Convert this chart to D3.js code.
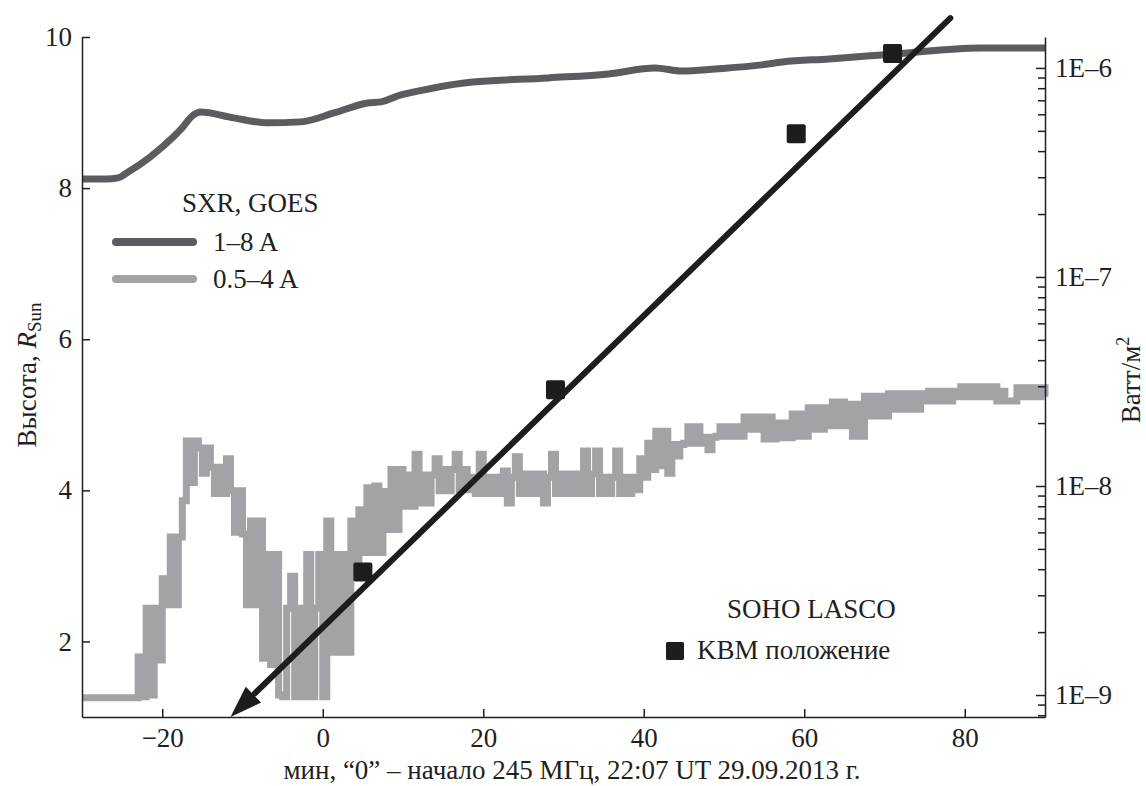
<!DOCTYPE html>
<html>
<head>
<meta charset="utf-8">
<script src="https://cdn.jsdelivr.net/npm/d3@7"></script>
<style>
    body { margin: 0; background: #fff; }
    svg text { font-family: 'Liberation Serif', 'Times New Roman', serif; fill: #231f20; }
</style>
</head>
<body>
<svg id="chart" width="1146" height="786"></svg>
<script>
// time in minutes, "0" = onset at 245 MHz
let hardTime = [-30, -27, -25.5, -24.4, -21.5, -18.6, -17.75, -16.1, -15.25, -11.1, -6.9, -2.75, 1.4, 5.6, 7.25, 9.75, 11.4, 17.6, 28.1, 35.6, 41.4, 44.75, 48.9, 54.75, 57.25, 63.1, 71.4, 81.9, 90];
// GOES 1-8 A, W/m2
let hardFlux = [2.94e-7, 2.94e-7, 2.98e-7, 3.15e-7, 3.75e-7, 4.68e-7, 5.05e-7, 5.96e-7, 6.16e-7, 5.77e-7, 5.46e-7, 5.52e-7, 6.09e-7, 6.80e-7, 6.88e-7, 7.43e-7, 7.68e-7, 8.48e-7, 8.96e-7, 9.36e-7, 1.0e-6, 9.67e-7, 9.89e-7, 1.034e-6, 1.068e-6, 1.104e-6, 1.167e-6, 1.246e-6, 1.246e-6];

// GOES 0.5-4 A, sampled every half minute from -30, in 1E-9 W/m2
let softStart = -30;
let softStep = 0.5;
let softFlux = [
    0.97, 0.97, 0.97, 0.97, 0.97, 0.97, 0.97, 0.97, 0.97, 0.97,
    0.97, 0.97, 0.97, 0.97, 1.52, 0.98, 2.6, 1.0, 2.6, 1.47,
    3.6, 2.7, 5.7, 2.7, 5.7, 8.5, 16.4, 10.4, 16.4, 15.2,
    11.5, 15.2, 12.3, 9.2, 12.3, 9.2, 13.5, 9.5, 6.0, 9.5,
    5.9, 2.7, 6.8, 2.7, 6.8, 1.5, 4.7, 1.4, 4.7, 1.0,
    0.98, 2.6, 3.7, 0.98, 2.6, 0.98, 4.7, 0.98, 2.6, 4.7,
    0.98, 6.8, 1.6, 4.7, 1.6, 4.7, 1.6, 6.8, 3.7, 7.7,
    4.8, 9.8, 4.8, 10.0, 4.8, 9.4, 6.2, 12.0, 6.2, 12.0,
    8.0, 11.3, 8.0, 14.2, 8.3, 11.3, 8.3, 11.3, 13.5, 9.5,
    12.0, 9.5, 12.0, 14.2, 9.6, 12.0, 9.6, 11.0, 9.2, 14.2,
    9.2, 11.0, 9.2, 11.0, 9.2, 11.8, 8.3, 11.0, 13.8, 9.2,
    11.4, 9.2, 11.4, 9.2, 11.4, 8.3, 11.0, 14.2, 9.2, 11.4,
    9.2, 11.4, 9.2, 11.4, 9.2, 14.7, 9.2, 11.4, 14.7, 9.2,
    11.0, 9.2, 11.0, 14.7, 9.2, 11.0, 9.2, 11.0, 9.6, 13.5,
    11.0, 16.0, 12.0, 18.3, 12.5, 18.3, 11.5, 15.8, 13.9, 15.8,
    16.0, 19.2, 16.0, 19.2, 16.0, 17.1, 14.9, 17.1, 17.3, 19.2,
    17.3, 19.2, 17.3, 19.2, 17.3, 21.4, 18.7, 21.4, 18.7, 21.4,
    16.8, 21.4, 16.8, 20.0, 17.0, 20.0, 17.0, 22.1, 17.3, 22.1,
    17.3, 23.7, 18.7, 23.7, 18.7, 23.7, 19.4, 25.2, 19.4, 25.2,
    19.4, 24.6, 17.3, 24.6, 17.3, 26.9, 21.6, 26.9, 21.6, 26.9,
    21.6, 27.6, 23.3, 27.6, 23.3, 27.6, 23.3, 27.6, 23.3, 27.6,
    25.5, 28.4, 25.5, 28.4, 25.5, 28.4, 25.5, 28.4, 26.7, 29.8,
    26.7, 29.8, 26.7, 29.8, 26.7, 29.8, 26.7, 29.8, 25.5, 28.4,
    25.5, 25.5, 25.5, 29.5, 26.7, 29.5, 26.7, 29.5, 26.7, 29.5,
    26.7
];

// SOHO LASCO CME front, solar radii
let kbmTime = [5, 29, 59, 71];
let kbmHeight = [2.92, 5.33, 8.72, 9.78];

// linear fit drawn as arrow (from tail to tip)
let fitTime = [78.2, -11.5];
let fitHeight = [10.25, 1.0];

let timeTicks = [-20, 0, 20, 40, 60, 80];
let heightTicks = [2, 4, 6, 8, 10];

let fontSize = 27;
let ink = '#231f20';
let hardColor = '#5c5c60';
let softColor = '#a2a3a7';

let svg = d3.select('#chart');

let x = d3.scaleLinear().domain([-30, 90]).range([82, 1045]);
let yH = d3.scaleLinear().domain([1, 10]).range([717, 37]);
let yFlux = d3.scaleLog().domain([7.85e-10, 1.406e-6]).range([717, 37]);

// series
let softLine = d3.line()
    .x((d, i) => x(softStart + i * softStep))
    .y((d) => yFlux(d * 1e-9))
    .curve(d3.curveStepAfter);

svg.append('path')
    .datum(softFlux)
    .attr('d', softLine)
    .attr('fill', 'none')
    .attr('stroke', softColor)
    .attr('stroke-width', 7)
    .attr('stroke-linejoin', 'miter');

let hardLine = d3.line()
    .x((d, i) => x(hardTime[i]))
    .y((d) => yFlux(d))
    .curve(d3.curveMonotoneX);

svg.append('path')
    .datum(hardFlux)
    .attr('d', hardLine)
    .attr('fill', 'none')
    .attr('stroke', hardColor)
    .attr('stroke-width', 7);

// CME positions
let sq = 19;
svg.append('g').selectAll('rect')
    .data(kbmTime)
    .join('rect')
    .attr('x', (d) => x(d) - sq / 2)
    .attr('y', (d, i) => yH(kbmHeight[i]) - sq / 2)
    .attr('width', sq)
    .attr('height', sq)
    .attr('rx', 2)
    .attr('fill', '#1e1c1d');

// fit arrow
let tail = { x: x(fitTime[0]), y: yH(fitHeight[0]) },
    tip = { x: x(fitTime[1]), y: yH(fitHeight[1]) },
    len = Math.hypot(tail.x - tip.x, tail.y - tip.y),
    u = { x: (tail.x - tip.x) / len, y: (tail.y - tip.y) / len },
    n = { x: -u.y, y: u.x },
    headLen = 32,
    headHalf = 11,
    base = { x: tip.x + u.x * headLen, y: tip.y + u.y * headLen };

svg.append('line')
    .attr('x1', tail.x).attr('y1', tail.y)
    .attr('x2', base.x + u.x * 2).attr('y2', base.y + u.y * 2)
    .attr('stroke', '#1e1c1d')
    .attr('stroke-width', 6)
    .attr('stroke-linecap', 'round');

svg.append('path')
    .attr('d', 'M ' + tip.x + ' ' + tip.y +
        ' L ' + (base.x + n.x * headHalf) + ' ' + (base.y + n.y * headHalf) +
        ' L ' + (base.x - n.x * headHalf) + ' ' + (base.y - n.y * headHalf) + ' Z')
    .attr('fill', '#1e1c1d');

// axes
function styleAxis(g) {
    g.attr('font-family', null);
    g.select('.domain').attr('stroke', ink).attr('stroke-width', 1.5);
    g.selectAll('.tick line').attr('stroke', ink).attr('stroke-width', 1.5);
    g.selectAll('.tick text')
        .attr('font-size', fontSize)
        .attr('fill', ink);
}

svg.append('g')
    .attr('transform', 'translate(0,717)')
    .call(d3.axisBottom(x)
        .tickValues(timeTicks)
        .tickSizeInner(-8)
        .tickSizeOuter(0)
        .tickPadding(11)
        .tickFormat((d) => d < 0 ? '\u2212' + Math.abs(d) : d))
    .call(styleAxis);

svg.append('g')
    .attr('transform', 'translate(82,0)')
    .call(d3.axisLeft(yH)
        .tickValues(heightTicks)
        .tickSizeInner(-8)
        .tickSizeOuter(0)
        .tickPadding(10))
    .call(styleAxis);

function isDecade(d) {
    let l = Math.log10(d);
    return Math.abs(l - Math.round(l)) < 1e-6;
}

let rightAxis = svg.append('g')
    .attr('transform', 'translate(1045,0)')
    .call(d3.axisRight(yFlux)
        .tickValues(yFlux.ticks())
        .tickSizeInner(-7)
        .tickSizeOuter(0)
        .tickPadding(10)
        .tickFormat((d) => isDecade(d) ? '1E\u2013' + Math.round(-Math.log10(d)) : ''))
    .call(styleAxis);

rightAxis.selectAll('.tick line').filter((d) => isDecade(d)).attr('x2', -9);

// axis titles
svg.append('text')
    .attr('x', 572)
    .attr('y', 779)
    .attr('text-anchor', 'middle')
    .attr('font-size', fontSize)
    .text('мин, \u201C0\u201D \u2013 начало 245 МГц, 22:07 UT 29.09.2013 г.');

let leftTitle = svg.append('text')
    .attr('transform', 'translate(36,375) rotate(-90)')
    .attr('text-anchor', 'middle')
    .attr('font-size', fontSize);
leftTitle.append('tspan').text('Высота, ');
leftTitle.append('tspan').attr('font-style', 'italic').text('R');
leftTitle.append('tspan').attr('font-size', 19).attr('dy', 5).text('Sun');

let rightTitle = svg.append('text')
    .attr('transform', 'translate(1140,380) rotate(-90)')
    .attr('text-anchor', 'middle')
    .attr('font-size', fontSize);
rightTitle.append('tspan').text('Ватт/м');
rightTitle.append('tspan').attr('font-size', 18).attr('dy', -11).text('2');

// legends
svg.append('text')
    .attr('x', 182).attr('y', 212)
    .attr('font-size', fontSize)
    .text('SXR, GOES');

let legendItems = [
    { label: '1\u20138 A', color: hardColor, y: 242 },
    { label: '0.5\u20134 A', color: softColor, y: 279 }
];

let legend = svg.append('g').selectAll('g')
    .data(legendItems)
    .join('g');

legend.append('line')
    .attr('x1', 116).attr('x2', 193)
    .attr('y1', (d) => d.y).attr('y2', (d) => d.y)
    .attr('stroke', (d) => d.color)
    .attr('stroke-width', 8)
    .attr('stroke-linecap', 'round');

legend.append('text')
    .attr('x', 213)
    .attr('y', (d) => d.y + 9)
    .attr('font-size', fontSize)
    .text((d) => d.label);

svg.append('text')
    .attr('x', 727).attr('y', 618)
    .attr('font-size', fontSize)
    .text('SOHO LASCO');

svg.append('rect')
    .attr('x', 666).attr('y', 642)
    .attr('width', 18).attr('height', 18)
    .attr('rx', 1.5)
    .attr('fill', '#1e1c1d');

svg.append('text')
    .attr('x', 697).attr('y', 659)
    .attr('font-size', fontSize)
    .text('KBM положение');
</script>
</body>
</html>
